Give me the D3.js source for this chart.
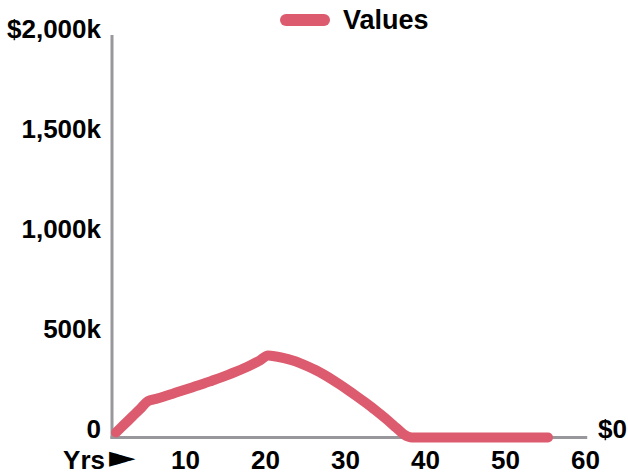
<!DOCTYPE html>
<html>
<head>
<meta charset="utf-8">
<script src="https://cdn.jsdelivr.net/npm/d3@7"></script>
<style>
  body { margin: 0; background: #fff; }
  text { font-family: "Liberation Sans", Arial, sans-serif; font-weight: bold; fill: #000; }
</style>
</head>
<body>
<div id="chart"></div>
<script>
// years on the x axis, values in dollars
const years = [1, 2, 3, 4, 5, 6, 7, 8, 9, 10, 11, 12, 13, 14, 15, 16, 17, 18, 19, 20,
  21, 22, 23, 24, 25, 26, 27, 28, 29, 30, 31, 32, 33, 34, 35, 36, 37, 38,
  39, 40, 41, 42, 43, 44, 45, 46, 47, 48, 49, 50, 51, 52, 53, 54, 55];
const values = [25000, 64000, 103000, 142000, 182000, 193000, 205000, 218000, 231000, 244000,
  257000, 270000, 284000, 298000, 313000, 329000, 346000, 365000, 386000, 410000,
  405000, 397000, 386000, 372000, 355000, 336000, 314000, 290000, 264000, 237000,
  209000, 180000, 150000, 118000, 85000, 50000, 15000, 0,
  0, 0, 0, 0, 0, 0, 0, 0, 0, 0, 0, 0, 0, 0, 0, 0, 0];
const xTicks = [10, 20, 30, 40, 50, 60];
const yTicks = [0, 500000, 1000000, 1500000, 2000000];
const seriesName = "Values";

const width = 628, height = 475;
const lineColor = "#dc5b6e";
const axisColor = "#98989c";
const fontSize = 26;
const xLabelY = 469;

const svg = d3.select("#chart").append("svg")
  .attr("width", width)
  .attr("height", height);

const x = d3.scaleLinear().domain([0, 60]).range([108, 588]);
const y = d3.scaleLinear().domain([0, 2000000]).range([437.5, 37.5]);

const fmtY = v => {
  if (v === 0) return "0";
  const s = d3.format(",")(v / 1000) + "k";
  return v === 2000000 ? "$" + s : s;
};

// y labels
const yAxis = svg.append("g")
  .attr("transform", "translate(101,0)")
  .call(d3.axisLeft(y).tickValues(yTicks).tickSize(0).tickPadding(0).tickFormat(fmtY));
yAxis.select(".domain").remove();
yAxis.selectAll("text")
  .attr("dy", 0)
  .attr("font-size", fontSize)
  .attr("font-family", null)
  .style("fill", "#000");

// x labels
const xAxis = svg.append("g")
  .attr("transform", `translate(-3,${xLabelY})`)
  .call(d3.axisBottom(x).tickValues(xTicks).tickSize(0).tickPadding(0).tickFormat(d3.format("d")));
xAxis.select(".domain").remove();
xAxis.selectAll("text")
  .attr("dy", 0)
  .attr("y", 0)
  .attr("font-size", fontSize)
  .attr("font-family", null)
  .style("fill", "#000");

svg.append("text")
  .attr("x", 105)
  .attr("y", xLabelY)
  .attr("text-anchor", "end")
  .attr("font-size", fontSize)
  .text("Yrs");
svg.append("text")
  .attr("transform", "translate(109,467) scale(1.15,1)")
  .attr("font-size", 30)
  .style("font-family", "DejaVu Sans")
  .style("font-weight", "normal")
  .text("►");

// axis lines
svg.append("line")
  .attr("x1", x(0.5)).attr("x2", x(0.5))
  .attr("y1", 35).attr("y2", y(0) + 1.5)
  .attr("stroke", axisColor).attr("stroke-width", 3);
svg.append("line")
  .attr("x1", x(0.5) - 1.5).attr("x2", x(59.9))
  .attr("y1", y(0)).attr("y2", y(0))
  .attr("stroke", axisColor).attr("stroke-width", 3);

// series line
const data = years.map((yr, i) => ({ yr, v: values[i] }));
const line = d3.line()
  .x(d => x(d.yr))
  .y(d => y(d.v))
  .curve(d3.curveMonotoneX);

svg.append("path")
  .datum(data)
  .attr("d", line)
  .attr("fill", "none")
  .attr("stroke", lineColor)
  .attr("stroke-width", 10)
  .attr("stroke-linecap", "round")
  .attr("stroke-linejoin", "round");

// end value label
svg.append("text")
  .attr("x", 598)
  .attr("y", y(values[values.length - 1]))
  .attr("font-size", fontSize)
  .text("$" + d3.format(",")(values[values.length - 1]));

// legend
const legend = svg.append("g").attr("transform", "translate(286,20)");
legend.append("line")
  .attr("x1", 0).attr("x2", 38)
  .attr("stroke", lineColor)
  .attr("stroke-width", 12)
  .attr("stroke-linecap", "round");
legend.append("text")
  .attr("x", 57)
  .attr("y", 9)
  .attr("font-size", 27)
  .text(seriesName);
</script>
</body>
</html>
